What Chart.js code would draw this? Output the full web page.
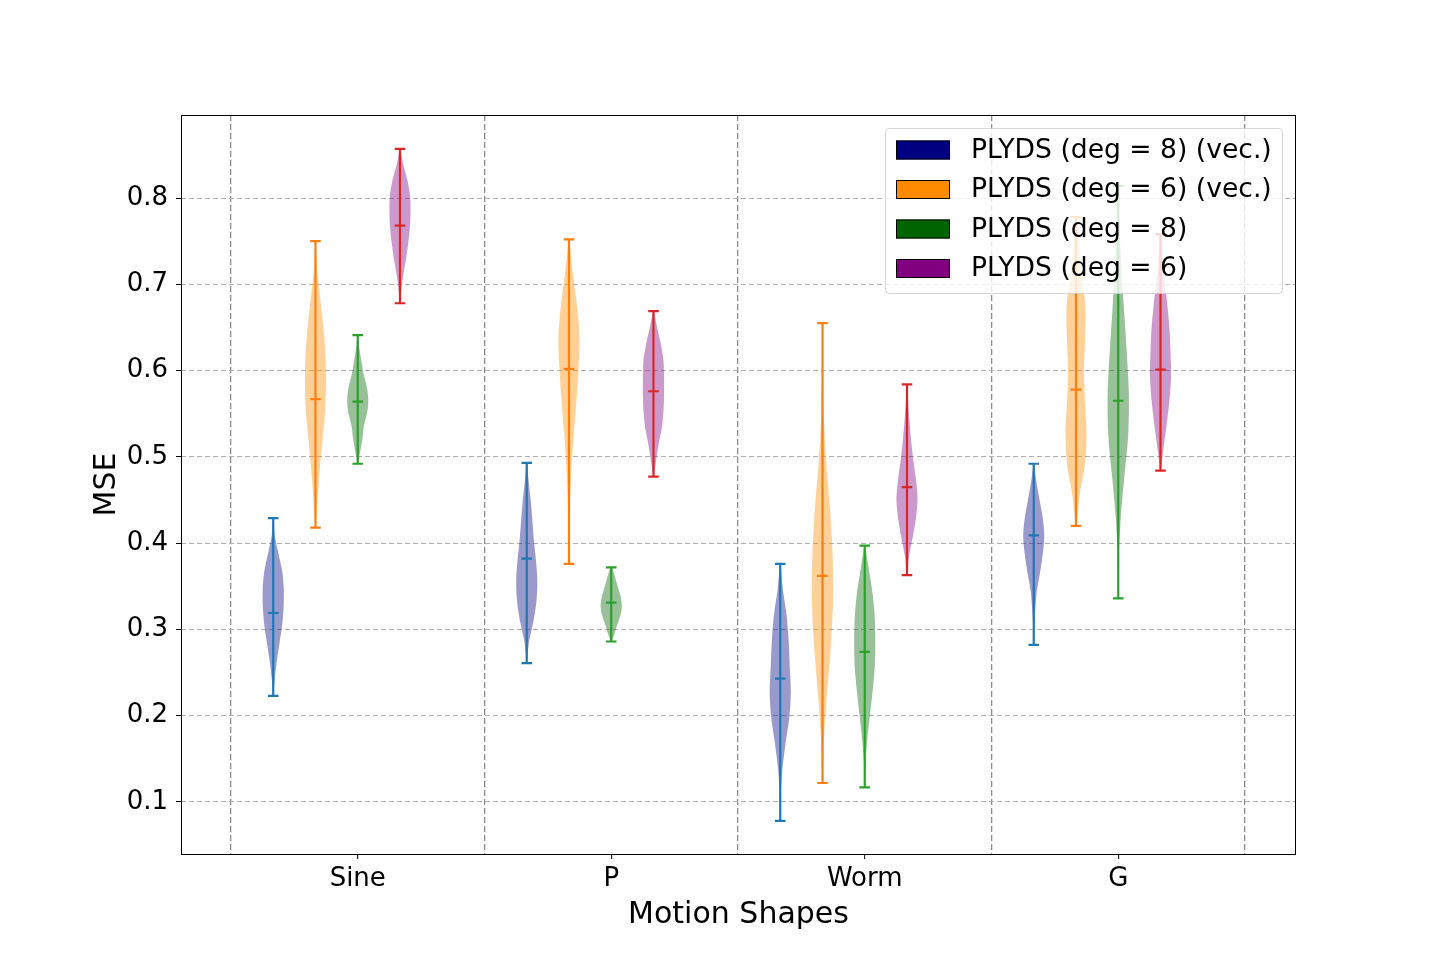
<!DOCTYPE html>
<html>
<head>
<meta charset="utf-8">
<script src="https://cdn.jsdelivr.net/npm/chart.js@4.4.1/dist/chart.umd.min.js"></script>
<style>
  html, body { margin: 0; padding: 0; background: #fff; }
</style>
</head>
<body>
<canvas id="violins" width="1440" height="960"></canvas>
<script>
// categories and series
const shapes = ['Sine', 'P', 'Worm', 'G'];
const seriesNames = ['PLYDS (deg = 8) (vec.)', 'PLYDS (deg = 6) (vec.)', 'PLYDS (deg = 8)', 'PLYDS (deg = 6)'];
const yTicks = [0.1, 0.2, 0.3, 0.4, 0.5, 0.6, 0.7, 0.8];

// extrema and means, one value per shape
const blueMin = [0.223, 0.261, 0.078, 0.282];
const blueMax = [0.429, 0.493, 0.376, 0.492];
const blueMean = [0.319, 0.382, 0.243, 0.409];
const orangeMin = [0.418, 0.376, 0.122, 0.420];
const orangeMax = [0.750, 0.752, 0.655, 0.778];
const orangeMean = [0.567, 0.602, 0.362, 0.578];
const greenMin = [0.492, 0.286, 0.117, 0.336];
const greenMax = [0.641, 0.372, 0.397, 0.814];
const greenMean = [0.564, 0.331, 0.274, 0.565];
const purpleMin = [0.678, 0.477, 0.363, 0.484];
const purpleMax = [0.857, 0.669, 0.584, 0.758];
const purpleMean = [0.768, 0.576, 0.465, 0.601];

// relative violin width, bottom (min) to top (max), 11 even steps
const blueWidths = [
  [0.02, 0.15, 0.35, 0.6, 0.85, 0.98, 1.0, 0.85, 0.5, 0.15, 0.02],
  [0.02, 0.2, 0.6, 0.9, 1.0, 0.9, 0.7, 0.55, 0.4, 0.2, 0.02],
  [0.01, 0.05, 0.2, 0.5, 0.85, 1.0, 0.9, 0.8, 0.6, 0.25, 0.02],
  [0.01, 0.05, 0.15, 0.3, 0.6, 0.85, 1.0, 0.85, 0.55, 0.25, 0.03]
];
const orangeWidths = [
  [0.02, 0.2, 0.4, 0.65, 0.9, 1.0, 0.95, 0.75, 0.45, 0.15, 0.02],
  [0.01, 0.05, 0.12, 0.25, 0.45, 0.7, 0.9, 1.0, 0.75, 0.35, 0.03],
  [0.02, 0.15, 0.45, 0.8, 1.0, 0.95, 0.7, 0.35, 0.12, 0.03, 0.01],
  [0.05, 0.35, 0.85, 1.0, 0.85, 0.75, 0.85, 0.9, 0.6, 0.25, 0.03]
];
const greenWidths = [
  [0.02, 0.25, 0.45, 0.6, 0.9, 1.0, 0.85, 0.55, 0.35, 0.15, 0.02],
  [0.05, 0.3, 0.5, 0.75, 0.95, 1.0, 0.9, 0.7, 0.5, 0.3, 0.05],
  [0.02, 0.08, 0.25, 0.5, 0.75, 0.95, 1.0, 0.95, 0.75, 0.4, 0.03],
  [0.01, 0.05, 0.25, 0.6, 0.95, 1.0, 0.8, 0.55, 0.3, 0.12, 0.02]
];
const purpleWidths = [
  [0.02, 0.15, 0.35, 0.6, 0.8, 0.95, 1.0, 0.95, 0.7, 0.3, 0.03],
  [0.03, 0.25, 0.5, 0.8, 0.95, 1.0, 1.0, 0.95, 0.7, 0.35, 0.03],
  [0.03, 0.2, 0.55, 0.85, 1.0, 0.85, 0.6, 0.4, 0.25, 0.12, 0.02],
  [0.03, 0.3, 0.6, 0.85, 1.0, 0.95, 0.85, 0.65, 0.4, 0.15, 0.02]
];

const FONT = 'DejaVu Sans';
const HALF = 0.25;   // half of violin width, in x units
const CAP = 0.125;   // half of cap line width

const series = [
  { min: blueMin, max: blueMax, mean: blueMean, widths: blueWidths,
    body: 'rgba(0,0,128,0.4)', line: '#1f77b4', patch: '#000080' },
  { min: orangeMin, max: orangeMax, mean: orangeMean, widths: orangeWidths,
    body: 'rgba(255,140,0,0.4)', line: '#ff7f0e', patch: '#ff8c00' },
  { min: greenMin, max: greenMax, mean: greenMean, widths: greenWidths,
    body: 'rgba(0,100,0,0.4)', line: '#2ca02c', patch: '#006400' },
  { min: purpleMin, max: purpleMax, mean: purpleMean, widths: purpleWidths,
    body: 'rgba(128,0,128,0.4)', line: '#d62728', patch: '#800080' }
];

const datasets = [];
series.forEach((s, si) => {
  shapes.forEach((name, gi) => {
    const pos = gi * 6 + si + 1;
    const lo = s.min[gi], hi = s.max[gi], w = s.widths[gi];
    const left = [], right = [];
    w.forEach((r, k) => {
      const y = lo + (hi - lo) * k / (w.length - 1);
      left.push({ x: pos - HALF * r, y: y });
      right.unshift({ x: pos + HALF * r, y: y });
    });
    datasets.push({
      data: left.concat(right),
      showLine: true, fill: 'shape', tension: 0.3,
      backgroundColor: s.body, borderColor: 'rgba(0,0,0,0)', borderWidth: 0,
      pointRadius: 0, order: 2
    });
    const m = s.mean[gi];
    datasets.push({
      data: [
        { x: pos, y: lo }, { x: pos, y: hi }, { x: pos, y: null },
        { x: pos - CAP, y: hi }, { x: pos + CAP, y: hi }, { x: pos, y: null },
        { x: pos - CAP, y: lo }, { x: pos + CAP, y: lo }, { x: pos, y: null },
        { x: pos - CAP, y: m }, { x: pos + CAP, y: m }
      ],
      showLine: true, fill: false, borderColor: s.line, borderWidth: 2.2,
      pointRadius: 0, spanGaps: false, order: 1
    });
  });
});

// matplotlib-like legend box drawn over the plot
const boxLegend = {
  id: 'boxLegend',
  afterDraw(chart) {
    const { ctx, chartArea } = chart;
    ctx.save();
    ctx.font = '26.6px "' + FONT + '"';
    const w = 397;
    const h = 165;
    const x0 = Math.round(chartArea.right - 14 - w);
    const y0 = chartArea.top + 13;
    ctx.beginPath();
    ctx.roundRect(x0 + 0.5, y0 + 0.5, w, h, 4);
    ctx.fillStyle = 'rgba(255,255,255,0.8)';
    ctx.fill();
    ctx.strokeStyle = 'rgba(204,204,204,0.8)';
    ctx.lineWidth = 1;
    ctx.stroke();
    seriesNames.forEach((t, i) => {
      const cy = y0 + 22 + i * 39.5;
      ctx.fillStyle = series[i].patch;
      ctx.fillRect(x0 + 11, cy - 9.5, 54, 19);
      ctx.strokeStyle = '#000';
      ctx.strokeRect(x0 + 11.5, cy - 9, 53, 18);
      ctx.fillStyle = '#000';
      ctx.textBaseline = 'middle';
      ctx.textAlign = 'left';
      ctx.fillText(t, x0 + 86, cy + 1);
    });
    ctx.restore();
  }
};

// full axes frame
const frame = {
  id: 'frame',
  afterDatasetsDraw(chart) {
    const { ctx, chartArea: a } = chart;
    ctx.save();
    ctx.strokeStyle = '#000';
    ctx.lineWidth = 1;
    ctx.strokeRect(Math.round(a.left) + 0.5, Math.round(a.top) + 0.5,
      Math.round(a.right - a.left) - 1, Math.round(a.bottom - a.top));
    ctx.restore();
  }
};

new Chart(document.getElementById('violins'), {
  type: 'scatter',
  data: { datasets: datasets },
  plugins: [frame, boxLegend],
  options: {
    responsive: false,
    animation: false,
    devicePixelRatio: 1,
    layout: { padding: { top: 115, right: 144, left: 0, bottom: 0 } },
    plugins: { legend: { display: false }, tooltip: { enabled: false } },
    scales: {
      x: {
        type: 'linear', min: -1.183, max: 25.207,
        afterBuildTicks: sc => { sc.ticks = [0, 3, 6, 9, 12, 15, 18, 21, 24].map(v => ({ value: v })); },
        afterFit: sc => { sc.height = 106; },
        ticks: {
          autoSkip: false, maxRotation: 0, padding: 5, color: '#000',
          font: { family: FONT, size: 26 },
          callback: v => (v % 6 === 3 ? shapes[(v - 3) / 6] : '')
        },
        grid: {
          color: c => (c.tick && c.tick.value % 6 === 0 ? '#8c8c8c' : 'rgba(0,0,0,0)'),
          lineWidth: 1.3,
          tickColor: c => (c.tick && c.tick.value % 6 === 3 ? '#000' : 'rgba(0,0,0,0)'),
          tickLength: 5, tickWidth: 1
        },
        border: { display: false, dash: [6, 3] },
        title: {
          display: true, text: 'Motion Shapes', color: '#000',
          font: { family: FONT, size: 30, lineHeight: 1 },
          padding: { top: 0, bottom: 30 }
        }
      },
      y: {
        min: 0.0397, max: 0.8962,
        afterBuildTicks: sc => { sc.ticks = yTicks.map(v => ({ value: v })); },
        afterFit: sc => { sc.width = 181; },
        ticks: {
          padding: 8, color: '#000',
          font: { family: FONT, size: 26 },
          callback: v => v.toFixed(1)
        },
        grid: { color: '#b0b0b0', lineWidth: 1, tickColor: '#000', tickLength: 5, tickWidth: 1 },
        border: { display: false, dash: [5, 3] },
        title: {
          display: true, text: 'MSE', color: '#000',
          font: { family: FONT, size: 30, lineHeight: 1 },
          padding: { top: 92, bottom: 0 }
        }
      }
    }
  }
});
</script>
</body>
</html>
